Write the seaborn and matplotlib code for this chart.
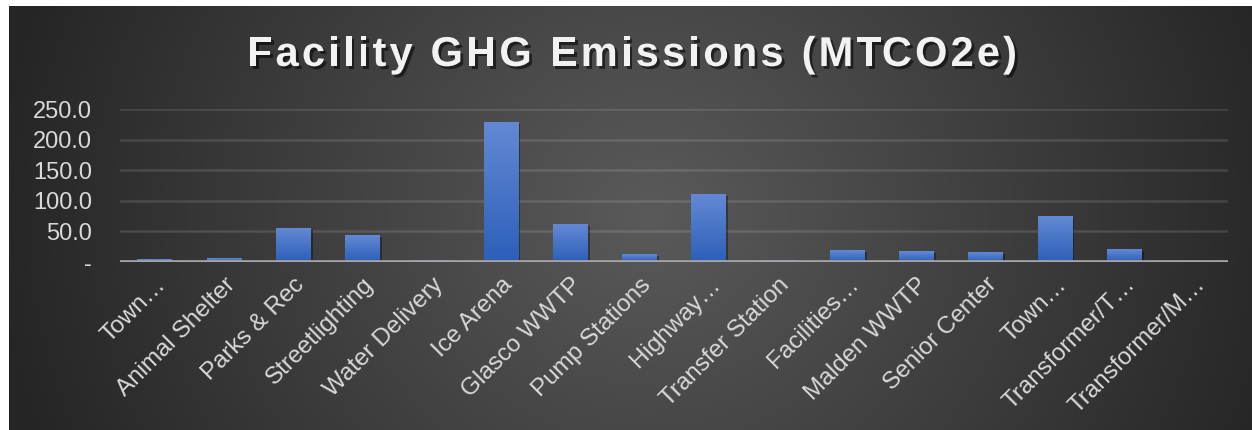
import numpy as np
import matplotlib
matplotlib.use("Agg")
import matplotlib.pyplot as plt
import matplotlib.patheffects as pe
import matplotlib.transforms as mtransforms
from matplotlib.colors import LinearSegmentedColormap
from matplotlib.font_manager import FontProperties
import seaborn as sns

# Datos
facilities = ["Town…", "Animal Shelter", "Parks & Rec", "Streetlighting", "Water Delivery",
              "Ice Arena", "Glasco WWTP", "Pump Stations", "Highway…", "Transfer Station",
              "Facilities…", "Malden WWTP", "Senior Center", "Town…", "Transformer/T…",
              "Transformer/M…"]
emissions = [4.4, 6.5, 55.1, 43.7, 2.7, 228.6, 61.6, 12.5, 110.8, 2.5,
             19.1, 17.5, 15.8, 74.8, 20.7, 0.8]
y_ticks = [0, 50, 100, 150, 200, 250]
y_tick_labels = ["-", "50.0", "100.0", "150.0", "200.0", "250.0"]
title = "Facility GHG Emissions (MTCO2e)"

sns.set_style("white")
plt.rcParams["font.family"] = ["Liberation Sans", "DejaVu Sans"]

W, H = 1252, 430
fig = plt.figure(figsize=(W / 100, H / 100), dpi=100)
fig.patch.set_facecolor("white")

# Fondo con degradado radial oscuro
bg = fig.add_axes([9 / W, 0, 1 - 9 / W, 1 - 6 / H], zorder=-1)
xx, yy = np.meshgrid(np.arange(9, W), np.arange(6, H))
r = np.sqrt(((xx - 650) / 650.0) ** 2 + ((yy - 215) / 600.0) ** 2)
shade = (90 - 52 * np.clip(r, 0, 1)) / 255.0
bg.imshow(np.dstack([shade, shade, shade]), aspect="auto", extent=[0, 1, 0, 1])
bg.axis("off")

# Eje principal
ax = fig.add_axes([120 / W, 1 - 262 / H, (1228 - 120) / W, (262 - 109) / H])
ax.set_facecolor("none")
sns.barplot(x=list(range(len(emissions))), y=emissions, color="#4472C4", width=0.5,
            linewidth=0, ax=ax, zorder=3)

# Degradado de las barras
bar_cmap = LinearSegmentedColormap.from_list("bar", ["#2d5fb9", "#6389d4"])
grad = np.linspace(1, 0, 100).reshape(-1, 1)
for p in list(ax.patches):
    x0, w, h = p.get_x(), p.get_width(), p.get_height()
    p.set_path_effects([pe.SimplePatchShadow(offset=(1.5, -1.5), shadow_rgbFace="black", alpha=0.35),
                        pe.Normal()])
    im = ax.imshow(grad, cmap=bar_cmap, aspect="auto", extent=[x0, x0 + w, 0, h],
                   zorder=3.5, vmin=0, vmax=1)
    im.set_clip_path(p)

ax.set_xlim(-0.5, len(emissions) - 0.5)
ax.set_ylim(0, 250)
ax.axhline(0, color="#a6a6a6", lw=2.6, zorder=4)

ax.set_yticks(y_ticks)
ax.set_yticklabels(y_tick_labels)
ax.yaxis.grid(True, color="white", alpha=0.12, lw=1.8, zorder=0)
ax.set_axisbelow(True)
ax.set_xticks(range(len(facilities)))
ax.set_xticklabels(facilities)
for s in ax.spines.values():
    s.set_visible(False)
ax.tick_params(axis="both", length=0, colors="#d9d9d9")
ax.tick_params(axis="y", pad=20, labelsize=17)
ax.tick_params(axis="x", pad=14, labelsize=17.5)

offset = mtransforms.ScaledTranslation(8 / 100, 0, fig.dpi_scale_trans)
for lbl in ax.get_xticklabels():
    lbl.set_rotation(45)
    lbl.set_ha("right")
    lbl.set_va("center")
    lbl.set_rotation_mode("anchor")
    lbl.set_transform(lbl.get_transform() + offset)

# Título con espaciado entre letras
fp = FontProperties(family="Liberation Sans", weight="bold", size=30)
renderer = fig.canvas.get_renderer()
base = renderer.get_text_width_height_descent("aa", fp, ismath=False)[0]
widths = [renderer.get_text_width_height_descent("a" + ch + "a", fp, ismath=False)[0] - base
          for ch in title]
target = 770
spacing = (target - sum(widths)) / (len(title) - 1)
xpos = 632 - target / 2
shadow = [pe.SimplePatchShadow(offset=(2, -2), shadow_rgbFace="black", alpha=0.55), pe.Normal()]
for ch, cw in zip(title, widths):
    if ch != " ":
        fig.text(xpos / W, 1 - 55 / H, ch, ha="left", va="center", fontproperties=fp,
                 color="#f2f2f2", path_effects=shadow)
    xpos += cw + spacing

ax.set_xlabel("")
ax.set_ylabel("")
fig.savefig("out.png", dpi=100)
